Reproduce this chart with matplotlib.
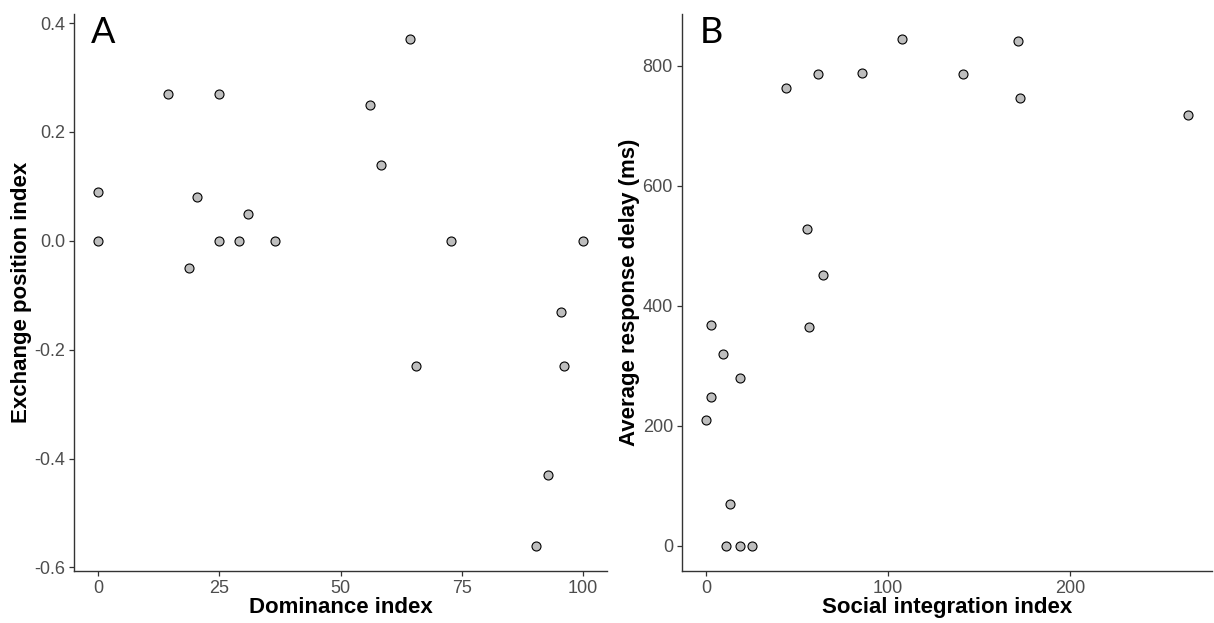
import matplotlib
matplotlib.use("Agg")
import matplotlib.pyplot as plt
from matplotlib.ticker import FormatStrFormatter

plt.rcParams['font.family'] = ['Liberation Sans', 'DejaVu Sans']
plt.rcParams['axes.unicode_minus'] = False

# panel A
dominance = [0, 0, 14.4, 25, 18.8, 20.3, 25, 29.0, 31.0, 36.5,
             56.0, 58.3, 64.4, 72.7, 100, 95.6, 65.5, 96.1, 92.8, 90.4]
exchange = [0.09, 0.0, 0.27, 0.27, -0.05, 0.08, 0.0, 0.0, 0.05, 0.0,
            0.25, 0.14, 0.37, 0.0, 0.0, -0.13, -0.23, -0.23, -0.43, -0.56]

# panel B
social = [44.0, 61.3, 85.5, 107.8, 141.1, 171.2, 172.4, 264.4, 55.6, 64.4,
          2.9, 56.4, 9.1, 18.5, 2.9, 0.0, 13.3, 10.7, 18.5, 25.1]
delay = [763, 787, 788, 844, 787, 842, 746, 718, 528, 452,
         367, 364, 320, 280, 247, 209, 70, 0, 0, 0]

fig = plt.figure(figsize=(12.14, 6.23), dpi=100)
axA = fig.add_axes([0.061, 0.0835, 0.439, 0.894])
axB = fig.add_axes([0.5618, 0.0835, 0.4362, 0.894])


def style(ax):
    for s in ['top', 'right']:
        ax.spines[s].set_visible(False)
    for s in ['left', 'bottom']:
        ax.spines[s].set_color('#333333')
        ax.spines[s].set_linewidth(1.0)
    ax.tick_params(length=3.5, width=0.9, color='#333333',
                   labelcolor='#4D4D4D', labelsize=13, pad=3)


for ax, x, y in [(axA, dominance, exchange), (axB, social, delay)]:
    ax.scatter(x, y, s=42, c='#BEBEBE', edgecolors='black', linewidths=0.8, zorder=3)
    style(ax)

title_kw = dict(fontsize=16, fontweight='bold')

axA.set_xlim(-5, 105)
axA.set_ylim(-0.6065, 0.4165)
axA.set_xticks([0, 25, 50, 75, 100])
axA.set_yticks([-0.6, -0.4, -0.2, 0.0, 0.2, 0.4])
axA.yaxis.set_major_formatter(FormatStrFormatter('%.1f'))
axA.set_xlabel('Dominance index', **title_kw)
axA.set_ylabel('Exchange position index', **title_kw)
axA.xaxis.set_label_coords(0.5, -0.046)
axA.yaxis.set_label_coords(-0.079, 0.5)

axB.set_xlim(-13.2, 277.6)
axB.set_ylim(-42.2, 886.2)
axB.set_xticks([0, 100, 200])
axB.set_yticks([0, 200, 400, 600, 800])
axB.set_xlabel('Social integration index', **title_kw)
axB.set_ylabel('Average response delay (ms)', **title_kw)
axB.xaxis.set_label_coords(0.5, -0.046)
axB.yaxis.set_label_coords(-0.08, 0.5)

fig.text(0.075, 0.975, 'A', fontsize=26, family=['Lato', 'DejaVu Sans'], va='top', ha='left')
fig.text(0.576, 0.975, 'B', fontsize=26, family=['Lato', 'DejaVu Sans'], va='top', ha='left')

fig.savefig('out.png', dpi=100)
